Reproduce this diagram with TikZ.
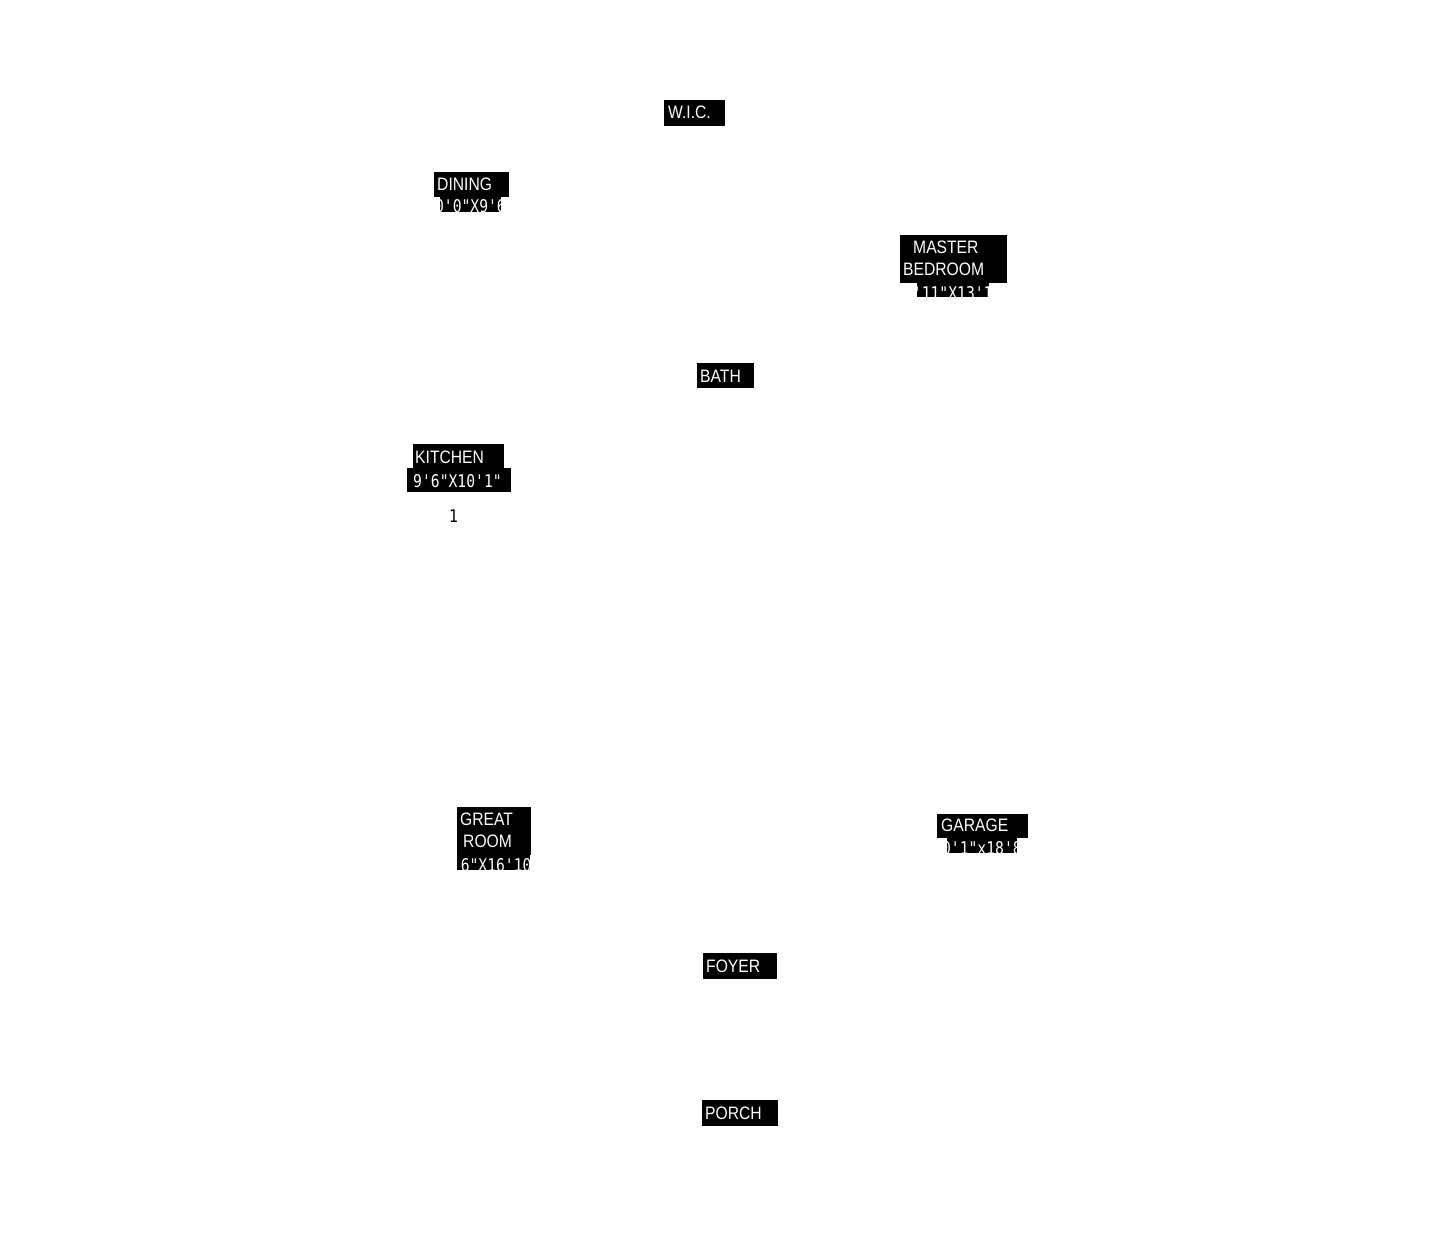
\documentclass[tikz,border=0pt]{standalone}
\usepackage{fontspec}
\setmainfont{Liberation Sans}[FakeStretch=0.87]
\newfontfamily\dimfont{DejaVu Sans Mono}[FakeStretch=0.84]
\begin{document}
\begin{tikzpicture}[x=1pt,y=-1pt,
  lbl/.style={text=white,inner sep=0pt,anchor=base west,font=\fontsize{18}{18}\selectfont},
  dimlbl/.style={text=white,inner sep=0pt,anchor=base west,font=\dimfont\fontsize{17.5}{18}\selectfont},
  plain/.style={text=black,inner sep=0pt,anchor=base west,font=\dimfont\fontsize{17.5}{18}\selectfont}]
\useasboundingbox[fill=white] (0,0) rectangle (1454,1240);
% W.I.C.
\fill (664,100) rectangle (725,126);
\node[lbl] (wic) at (668,118) {W.I.C.};
% DINING
\fill (434,172) rectangle (509,197);
\node[lbl] (dining) at (437,190) {DINING};
\fill (440,197) rectangle (501,212);
\begin{scope}
\clip (440,197) rectangle (501,212);
\node[dimlbl] (diningdim) at (426,212) {10'0"X9'6"};
\end{scope}
% MASTER BEDROOM
\fill (900,235) rectangle (1007,283);
\node[lbl] (master) at (913,253) {MASTER};
\node[lbl] (bedroom) at (903,275) {BEDROOM};
\fill (917,283) rectangle (989,297);
\begin{scope}
\clip (917,283) rectangle (989,297);
\node[dimlbl] (masterdim) at (895,299) {14'11"X13'10"};
\end{scope}
% BATH
\fill (697,363) rectangle (754,388);
\node[lbl] (bath) at (700,382) {BATH};
% KITCHEN
\fill (413,444) rectangle (504,468);
\node[lbl] (kitchen) at (415,463) {KITCHEN};
\fill (407,468) rectangle (511,492);
\node[dimlbl] (kitchendim) at (413,487) {9'6"X10'1"};
\node[plain] (one) at (449,522) {1};
% GREAT ROOM
\fill (457,807) rectangle (531,855);
\node[lbl] (great) at (460,825) {GREAT};
\node[lbl] (room) at (463,847) {ROOM};
\fill (457,855) rectangle (530,870);
\begin{scope}
\clip (457,855) rectangle (530,870);
\node[dimlbl] (greatdim) at (434,871) {15'6"X16'10"};
\end{scope}
% GARAGE
\fill (937,814) rectangle (1028,838);
\node[lbl] (garage) at (941,831) {GARAGE};
\fill (947,838) rectangle (1017,853);
\begin{scope}
\clip (947,838) rectangle (1017,853);
\node[dimlbl] (garagedim) at (933,854) {20'1"x18'8"};
\end{scope}
% FOYER
\fill (703,953) rectangle (777,979);
\node[lbl] (foyer) at (706,972) {FOYER};
% PORCH
\fill (702,1100) rectangle (778,1126);
\node[lbl] (porch) at (705,1119) {PORCH};
\end{tikzpicture}
\end{document}
